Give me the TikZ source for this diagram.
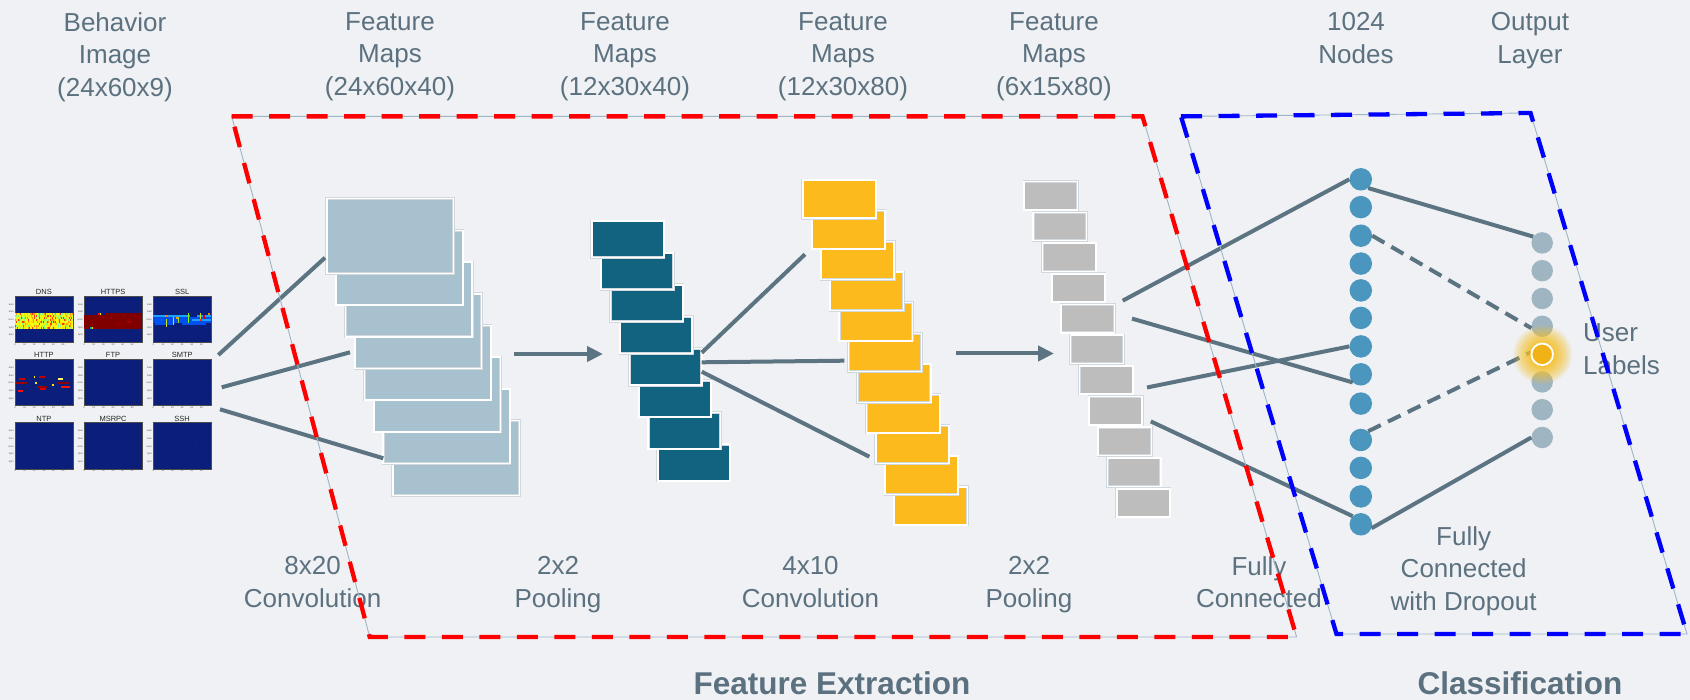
\documentclass[tikz,border=0pt]{standalone}
\usepackage{fontspec}
\setmainfont{Liberation Sans}
\usetikzlibrary{arrows.meta,fadings,calc}

\definecolor{bgc}{HTML}{EFF1F4}
\definecolor{txt}{HTML}{5C717F}
\definecolor{wire}{HTML}{5C7482}
\definecolor{convA}{HTML}{A7C1CE}
\definecolor{poolA}{HTML}{12637F}
\definecolor{convB}{HTML}{FCBA1C}
\definecolor{poolB}{HTML}{BDBDBD}
\definecolor{fcnode}{HTML}{4A96BE}
\definecolor{outnode}{HTML}{9FB6C2}
\definecolor{hot}{HTML}{F1B216}
\definecolor{glowc}{HTML}{F5BE22}
\definecolor{navy}{HTML}{0A1E7A}
\definecolor{guide}{HTML}{9DB5C5}
\definecolor{edgegrey}{HTML}{D0D7DD}
% heat map palette
\definecolor{dns1}{HTML}{FFFF00}
\definecolor{dns2}{HTML}{FFFF00}
\definecolor{dns3}{HTML}{F0FF10}
\definecolor{dns4}{HTML}{FFE000}
\definecolor{dns5}{HTML}{C8FF38}
\definecolor{dns6}{HTML}{80FF80}
\definecolor{dns7}{HTML}{FF9A00}
\definecolor{dns8}{HTML}{FF3A00}
\definecolor{dns9}{HTML}{A0FF60}
\definecolor{hdark}{HTML}{800000}
\definecolor{sblue}{HTML}{0050F0}
\definecolor{slight}{HTML}{1FA0FF}

\tikzfading[name=glowfade, inner color=transparent!0, outer color=transparent!100]
\pgfdeclarelayer{front}
\pgfdeclarelayer{top}
\pgfsetlayers{main,front,top}

% one heat-map cell block: x0, y0, column, row, columns, rows, colour
\newcommand{\hmcell}[7]{\fill[#7] ({#1+(#3)*0.963},{#2+(#4)*1.93}) rectangle ++({(#5)*0.963},{(#6)*1.93});}

\begin{document}
\begin{tikzpicture}[x=1pt,y=-1pt,
  lbl/.style={text=txt, font=\fontsize{26}{32.8}\selectfont, align=center, inner sep=0pt, anchor=north},
  headline/.style={text=txt, font=\fontsize{31.5}{36}\selectfont\bfseries, inner sep=0pt},
  fmap/.style={anchor=north west, inner sep=0pt, outer sep=0pt, draw=edgegrey, line width=0.5pt, double=white, double distance=1.6pt},
  panel/.style={anchor=north west, fill=navy, minimum width=57.8, minimum height=46.3, inner sep=0pt, draw=black!70, line width=0.3pt},
  ptitle/.style={text=black!85, font=\fontsize{7.5}{9}\selectfont, inner sep=0pt},
  tick/.style={text=black!70, font=\fontsize{2.4}{3}\selectfont, inner sep=0pt},
  fcn/.style={circle, fill=fcnode, minimum size=22.5pt, inner sep=0pt},
  outn/.style={circle, fill=outnode, minimum size=21.5pt, inner sep=0pt},
  wireline/.style={draw=wire, line width=4pt},
  wiredash/.style={draw=wire, line width=4pt, dash pattern=on 14pt off 8pt},
  flow/.style={draw=wire, line width=4pt, -{Triangle[length=16pt,width=15pt]}},
  frame/.style={draw=guide, line width=0.9pt, postaction={draw=#1, line width=4.3pt, dash pattern=on 21pt off 16.5pt}}
]
\useasboundingbox (0,0) rectangle (1690,700);
\fill[bgc] (0,0) rectangle (1690,700);

% ---------- input: nine traffic heat maps ----------
\foreach \t [count=\i from 0] in {DNS,HTTPS,SSL,HTTP,FTP,SMTP,NTP,MSRPC,SSH} {
  \pgfmathsetmacro\px{15+mod(\i,3)*69.15}
  \pgfmathsetmacro\py{295.7+floor(\i/3)*63.3}
  \node[panel] (g\i) at (\px,\py) {};
  \node[ptitle] (gt\i) at ({\px+28.9},{\py-3.8}) {\t};
  \foreach \lab [count=\j from 0] in {6am,9am,noon,3pm,6pm}
    \node[tick, anchor=east] (gy\i-\j) at ({\px-1.2},{\py+(0.187+\j*0.167)*46.3}) {\lab};
  \foreach \v [count=\j from 0] in {0,10,20,30,40,50}
    \node[tick, anchor=north] (gx\i-\j) at ({\px+\j*9.63},{\py+47.6}) {\v};
}

% DNS activity band
\pgfmathsetseed{42}
\foreach \c in {0,...,59}{
  \foreach \r in {9,...,16}{
    \pgfmathrandominteger{\k}{1}{9}
    \hmcell{15}{295.7}{\c}{\r}{1.02}{1.02}{dns\k}
  }
}
% HTTPS band
\hmcell{84.15}{295.7}{0}{10}{23}{7}{hdark}
\hmcell{84.15}{295.7}{23}{9}{37}{8}{hdark}
\hmcell{84.15}{295.7}{14}{9}{2}{1}{red!90!orange}
\hmcell{84.15}{295.7}{16}{9}{1}{1}{yellow}
\hmcell{84.15}{295.7}{28}{11}{1}{1}{red!75!black}
\hmcell{84.15}{295.7}{40}{10}{1}{1}{red!75!black}
\hmcell{84.15}{295.7}{44}{13}{6}{1}{red!65!black}
\hmcell{84.15}{295.7}{35}{14}{1}{1}{red!70!black}
\hmcell{84.15}{295.7}{6}{16}{2}{1}{cyan!70!green}
\hmcell{84.15}{295.7}{8}{16}{1}{1}{yellow!90!orange}
% SSL band
\hmcell{153.3}{295.7}{0}{11}{60}{3}{sblue}
\hmcell{153.3}{295.7}{0}{10}{38}{1}{slight}
\hmcell{153.3}{295.7}{45}{10}{15}{1}{slight}
\hmcell{153.3}{295.7}{40}{12}{20}{1}{slight}
\hmcell{153.3}{295.7}{2}{14}{20}{1}{sblue}
\hmcell{153.3}{295.7}{30}{14}{25}{1}{sblue}
\hmcell{153.3}{295.7}{13}{12}{1}{4}{yellow!80!green}
\hmcell{153.3}{295.7}{20}{11}{1}{4}{yellow!85!green}
\hmcell{153.3}{295.7}{26}{11}{1}{3}{yellow!70!green}
\hmcell{153.3}{295.7}{36}{9}{1}{5}{green!50!yellow}
\hmcell{153.3}{295.7}{49}{9}{1}{3}{yellow!80!green}
\hmcell{153.3}{295.7}{12}{10}{3}{1}{orange}
\hmcell{153.3}{295.7}{24}{11}{2}{1}{orange!80!yellow}
\hmcell{153.3}{295.7}{48}{12}{3}{1}{red!70!orange}
\hmcell{153.3}{295.7}{52}{10}{2}{2}{red!85!black}
\hmcell{153.3}{295.7}{8}{12}{1}{1}{red!70!orange}
\hmcell{153.3}{295.7}{57}{9}{2}{1}{orange}
% HTTP marks
\hmcell{15}{359.0}{4}{10}{6}{1}{red!80!black}
\hmcell{15}{359.0}{1}{12}{11}{1}{red!60!black}
\hmcell{15}{359.0}{3}{16}{5}{1}{red!90!orange}
\hmcell{15}{359.0}{20}{9}{1}{1}{yellow}
\hmcell{15}{359.0}{25}{9}{6}{1}{red!75!black}
\hmcell{15}{359.0}{21}{12}{2}{1}{yellow!90!orange}
\hmcell{15}{359.0}{23}{14}{10}{1}{red!60!black}
\hmcell{15}{359.0}{26}{15}{6}{1}{red!85!black}
\hmcell{15}{359.0}{45}{10}{5}{1}{yellow!60!white}
\hmcell{15}{359.0}{38}{13}{3}{1}{yellow!90!orange}
\hmcell{15}{359.0}{44}{12}{13}{1}{red!55!black}
\hmcell{15}{359.0}{48}{14}{9}{1}{red!85!orange}
% SSH single event
\hmcell{153.3}{422.3}{43}{11}{1}{1}{red!70!black}

% ---------- feature map stacks ----------
\foreach \i in {8,...,1}
  \node[fmap, fill=convA, minimum width=126.7, minimum height=74.7] (ca\i) at ({326.7+(\i-1)*9.43},{198.7+(\i-1)*31.7}) {};
\foreach \i in {8,...,1}
  \node[fmap, fill=poolA, minimum width=72.3, minimum height=36.7] (pa\i) at ({591.7+(\i-1)*9.43},{221+(\i-1)*31.9}) {};
\foreach \i in {11,...,1}
  \node[fmap, fill=convB, minimum width=73.3, minimum height=38.3] (cb\i) at ({802.7+(\i-1)*9.13},{180+(\i-1)*30.67}) {};
\foreach \i in {11,...,1}
  \node[fmap, fill=poolB, minimum width=53.3, minimum height=28.3] (pb\i) at ({1024+(\i-1)*9.27},{181.7+(\i-1)*30.7}) {};

% ---------- dense layers ----------
\foreach \y [count=\i] in {179.3,207.1,235.7,263.6,290.4,317.9,346.4,374.3,403.6,440,467.9,496.4,524.3}
  \node[fcn] (f\i) at (1360.8,\y) {};
\foreach \i in {1,2,3,4,6,7,8}
  \node[outn] (o\i) at (1542.2,{242.9+(\i-1)*27.8}) {};
\begin{pgfonlayer}{front}
  \coordinate (hotc) at (1542.2,354.3);
  \fill[glowc, path fading=glowfade] (hotc) circle (30);
  \fill[glowc, path fading=glowfade] (hotc) circle (30);
  \node[circle, fill=hot, draw=white, line width=1.8pt, minimum size=21.5pt, inner sep=0pt] (o5) at (hotc) {};
\end{pgfonlayer}

% ---------- connectors ----------
\coordinate (gA) at (218.3,355);   \coordinate (cA) at (325,257.7);
\coordinate (gB) at (221.7,387.3); \coordinate (cB) at (350,352.3);
\coordinate (gC) at (220,409.3);   \coordinate (cC) at (383.3,458.3);
\draw[wireline] (gA) -- (cA);
\draw[wireline] (gB) -- (cB);
\draw[wireline] (gC) -- (cC);

\coordinate (a1s) at (514,354);    \coordinate (a1e) at (603,354);
\draw[flow] (a1s) -- (a1e);
\coordinate (a2s) at (956,353.5);  \coordinate (a2e) at (1054,353.5);
\draw[flow] (a2s) -- (a2e);

\coordinate (qA) at (701.7,352.7); \coordinate (kA) at (805,254.3);
\coordinate (qB) at (701.7,362.3); \coordinate (kB) at (844.3,360.7);
\coordinate (qC) at (701.7,371.7); \coordinate (kC) at (869.3,456.7);
\draw[wireline] (qA) -- (kA);
\draw[wireline] (qB) -- (kB);
\draw[wireline] (qC) -- (kC);

\coordinate (hA) at (1122.7,300.7);
\coordinate (hB) at (1132,318.6);
\coordinate (hC) at (1147,387.5);
\coordinate (hD) at (1150.8,421.4);
\draw[wireline] (hA) -- (f1.west);
\draw[wireline] (hB) -- (f8.225);
\draw[wireline] (hC) -- (f7.west);
\draw[wireline] (hD) -- (f13.135);

\draw[wireline] (f1.-50) -- (o1.145);
\draw[wiredash] (f3.east) -- (o4.190);
\draw[wiredash] (f10.50) -- (o5.170);
\draw[wireline] (f13.-20) -- (o8.west);

% ---------- labels ----------
\node[lbl] (tImg) at (115,12) {Behavior\\Image\\(24x60x9)};
\node[lbl] (tF1) at (390,12) {Feature\\Maps\\(24x60x40)};
\node[lbl] (tF2) at (625,12) {Feature\\Maps\\(12x30x40)};
\node[lbl] (tF3) at (843,12) {Feature\\Maps\\(12x30x80)};
\node[lbl] (tF4) at (1054,12) {Feature\\Maps\\(6x15x80)};
\node[lbl] (tN) at (1356,12) {1024\\Nodes};
\node[lbl] (tO) at (1530,12) {Output\\Layer};

\node[lbl] (bC1) at (312.6,556) {8x20\\Convolution};
\node[lbl] (bP1) at (558,556) {2x2\\Pooling};
\node[lbl] (bC2) at (810.5,556) {4x10\\Convolution};
\node[lbl] (bP2) at (1029,556) {2x2\\Pooling};
\node[lbl] (bFC) at (1259,556) {Fully\\Connected};
\node[lbl] (bDr) at (1463.6,526) {Fully\\Connected\\with Dropout};
\node[lbl, anchor=north west, align=left] (uLab) at (1583,323.5) {User\\Labels};

\node[headline] (sFE) at (832,683) {Feature Extraction};
\node[headline] (sCl) at (1520,683) {Classification};

% ---------- stage frames ----------
\begin{pgfonlayer}{top}
  \coordinate (rTL) at (231.7,116.4);  \coordinate (rTR) at (1142.5,116.4);
  \coordinate (rBR) at (1296.6,637);   \coordinate (rBL) at (369.7,637);
  \draw[frame=red] (rTL) -- (rTR) -- (rBR) -- (rBL) -- cycle;
  \coordinate (bTL) at (1181,116.4);   \coordinate (bTR) at (1530.5,113);
  \coordinate (bBR) at (1687,634);     \coordinate (bBL) at (1336.5,634);
  \draw[frame=blue] (bTL) -- (bTR) -- (bBR) -- (bBL) -- cycle;
\end{pgfonlayer}
\end{tikzpicture}
\end{document}
